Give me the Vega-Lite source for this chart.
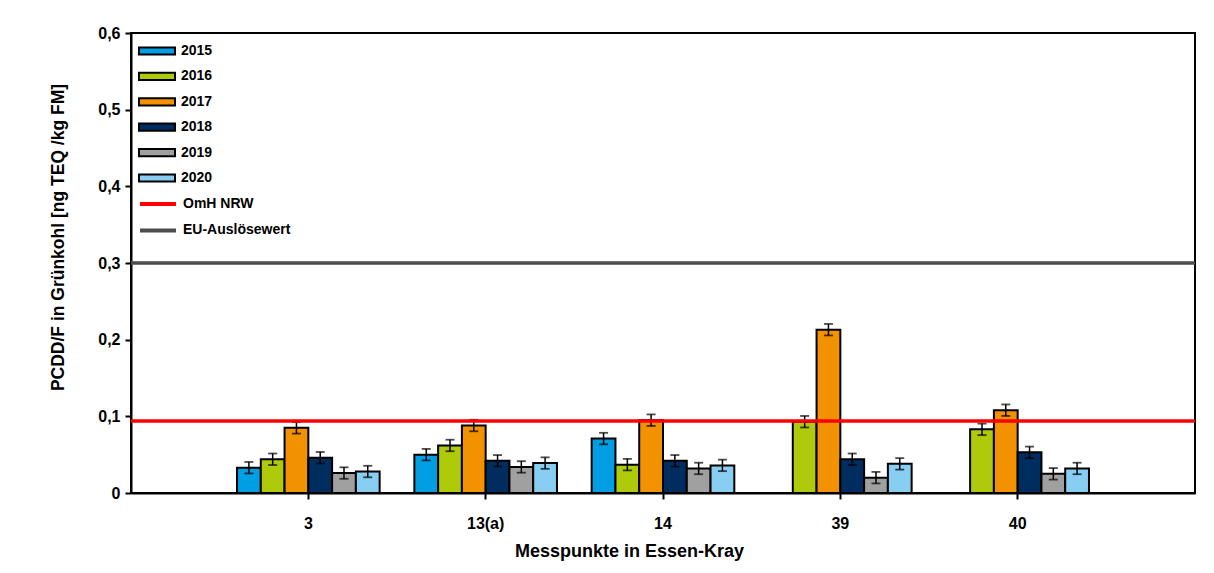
{
  "$schema": "https://vega.github.io/schema/vega-lite/v6.json",
  "autosize": {"type": "none"},
  "width": 1064,
  "height": 460,
  "padding": {"left": 131, "top": 33, "right": 19, "bottom": 80},
  "background": "white",
  "config": {
    "font": "Liberation Sans",
    "view": {"stroke": "black", "strokeWidth": 2},
    "axis": {
      "grid": false,
      "domainColor": "black",
      "domainWidth": 2,
      "tickColor": "black",
      "tickWidth": 2,
      "tickSize": 6,
      "labelFont": "Liberation Sans",
      "labelFontWeight": "bold",
      "labelColor": "black",
      "titleFont": "Liberation Sans",
      "titleFontWeight": "bold",
      "titleColor": "black"
    },
    "legend": {
      "labelFont": "Liberation Sans",
      "labelFontWeight": "bold",
      "labelFontSize": 14,
      "labelColor": "black"
    }
  },
  "datasets": {
    "bars": [
      {"site": "3", "year": "2015", "v": 0.033, "lo": 0.0255, "hi": 0.0405},
      {"site": "3", "year": "2016", "v": 0.044, "lo": 0.0365, "hi": 0.0515},
      {"site": "3", "year": "2017", "v": 0.085, "lo": 0.0775, "hi": 0.0925},
      {"site": "3", "year": "2018", "v": 0.046, "lo": 0.0385, "hi": 0.0535},
      {"site": "3", "year": "2019", "v": 0.026, "lo": 0.0185, "hi": 0.0335},
      {"site": "3", "year": "2020", "v": 0.028, "lo": 0.0205, "hi": 0.0355},
      {"site": "13(a)", "year": "2015", "v": 0.050, "lo": 0.0425, "hi": 0.0575},
      {"site": "13(a)", "year": "2016", "v": 0.062, "lo": 0.0545, "hi": 0.0695},
      {"site": "13(a)", "year": "2017", "v": 0.088, "lo": 0.0805, "hi": 0.0955},
      {"site": "13(a)", "year": "2018", "v": 0.042, "lo": 0.0345, "hi": 0.0495},
      {"site": "13(a)", "year": "2019", "v": 0.034, "lo": 0.0265, "hi": 0.0415},
      {"site": "13(a)", "year": "2020", "v": 0.039, "lo": 0.0315, "hi": 0.0465},
      {"site": "14", "year": "2015", "v": 0.071, "lo": 0.0635, "hi": 0.0785},
      {"site": "14", "year": "2016", "v": 0.037, "lo": 0.0295, "hi": 0.0445},
      {"site": "14", "year": "2017", "v": 0.095, "lo": 0.0875, "hi": 0.1025},
      {"site": "14", "year": "2018", "v": 0.042, "lo": 0.0345, "hi": 0.0495},
      {"site": "14", "year": "2019", "v": 0.032, "lo": 0.0245, "hi": 0.0395},
      {"site": "14", "year": "2020", "v": 0.036, "lo": 0.0285, "hi": 0.0435},
      {"site": "39", "year": "2016", "v": 0.093, "lo": 0.0855, "hi": 0.1005},
      {"site": "39", "year": "2017", "v": 0.213, "lo": 0.2055, "hi": 0.2205},
      {"site": "39", "year": "2018", "v": 0.044, "lo": 0.0365, "hi": 0.0515},
      {"site": "39", "year": "2019", "v": 0.020, "lo": 0.0125, "hi": 0.0275},
      {"site": "39", "year": "2020", "v": 0.038, "lo": 0.0305, "hi": 0.0455},
      {"site": "40", "year": "2016", "v": 0.083, "lo": 0.0755, "hi": 0.0905},
      {"site": "40", "year": "2017", "v": 0.108, "lo": 0.1005, "hi": 0.1155},
      {"site": "40", "year": "2018", "v": 0.053, "lo": 0.0455, "hi": 0.0605},
      {"site": "40", "year": "2019", "v": 0.025, "lo": 0.0175, "hi": 0.0325},
      {"site": "40", "year": "2020", "v": 0.032, "lo": 0.0245, "hi": 0.0395}
    ],
    "lines": [
      {"name": "OmH NRW", "y": 0.094},
      {"name": "EU-Auslösewert", "y": 0.3}
    ]
  },
  "encoding": {
    "x": {
      "field": "site",
      "type": "nominal",
      "sort": ["3", "13(a)", "14", "39", "40"],
      "scale": {"domain": ["3", "13(a)", "14", "39", "40"], "paddingInner": 0, "paddingOuter": 0.5},
      "axis": {
        "title": "Messpunkte in Essen-Kray",
        "labelAngle": 0,
        "labelFontSize": 16,
        "labelPadding": 16,
        "titleFontSize": 18,
        "titlePadding": 11,
        "titleX": 498
      }
    }
  },
  "layer": [
    {
      "data": {"name": "bars"},
      "mark": {"type": "bar", "stroke": "black", "strokeWidth": 2},
      "encoding": {
        "xOffset": {
          "field": "year",
          "type": "nominal",
          "scale": {"domain": ["2015", "2016", "2017", "2018", "2019", "2020"], "paddingInner": 0, "paddingOuter": 0.73}
        },
        "y": {
          "field": "v",
          "type": "quantitative",
          "scale": {"domain": [0, 0.6], "nice": false},
          "axis": {
            "title": "PCDD/F in Grünkohl [ng TEQ /kg FM]",
            "values": [0, 0.1, 0.2, 0.3, 0.4, 0.5, 0.6],
            "labelExpr": "datum.value == 0 ? '0' : replace(format(datum.value, '.1f'), '.', ',')",
            "labelFontSize": 16,
            "labelPadding": 5,
            "titleFontSize": 17.5,
            "titlePadding": 30,
            "titleY": 204
          }
        },
        "fill": {
          "field": "year",
          "type": "nominal",
          "scale": {
            "domain": ["2015", "2016", "2017", "2018", "2019", "2020"],
            "range": ["#009FE3", "#AFCA0B", "#F39200", "#002D5F", "#A0A0A0", "#87CEF2"]
          },
          "legend": {
            "title": null,
            "orient": "none",
            "legendX": 16,
            "legendY": 8,
            "padding": 0,
            "symbolType": "M-2,-0.4H2V0.4H-2Z",
            "symbolSize": 324,
            "symbolStrokeColor": "black",
            "symbolStrokeWidth": 2,
            "symbolOpacity": 1,
            "labelOffset": 14,
            "rowPadding": 7.4
          }
        }
      }
    },
    {
      "data": {"name": "bars"},
      "mark": {"type": "rule", "color": "black", "strokeWidth": 1.5},
      "encoding": {
        "xOffset": {"field": "year", "type": "nominal"},
        "y": {"field": "lo", "type": "quantitative"},
        "y2": {"field": "hi"}
      }
    },
    {
      "data": {"name": "bars"},
      "mark": {"type": "tick", "color": "black", "size": 9, "thickness": 1.8, "orient": "horizontal"},
      "encoding": {
        "xOffset": {"field": "year", "type": "nominal"},
        "y": {"field": "lo", "type": "quantitative"}
      }
    },
    {
      "data": {"name": "bars"},
      "mark": {"type": "tick", "color": "black", "size": 9, "thickness": 1.8, "orient": "horizontal"},
      "encoding": {
        "xOffset": {"field": "year", "type": "nominal"},
        "y": {"field": "hi", "type": "quantitative"}
      }
    },
    {
      "data": {"name": "lines"},
      "mark": {"type": "rule", "strokeWidth": 3.5},
      "encoding": {
        "x": null,
        "y": {"field": "y", "type": "quantitative"},
        "stroke": {
          "field": "name",
          "type": "nominal",
          "scale": {"domain": ["OmH NRW", "EU-Auslösewert"], "range": ["#FF0000", "#4D4D4D"]},
          "legend": {
            "title": null,
            "orient": "none",
            "legendX": 16,
            "legendY": 160,
            "padding": 0,
            "symbolType": "M-2,0H2",
            "symbolSize": 324,
            "symbolStrokeWidth": 4,
            "symbolFillColor": "transparent",
            "labelOffset": 14,
            "rowPadding": 7.4
          }
        }
      }
    }
  ]
}
